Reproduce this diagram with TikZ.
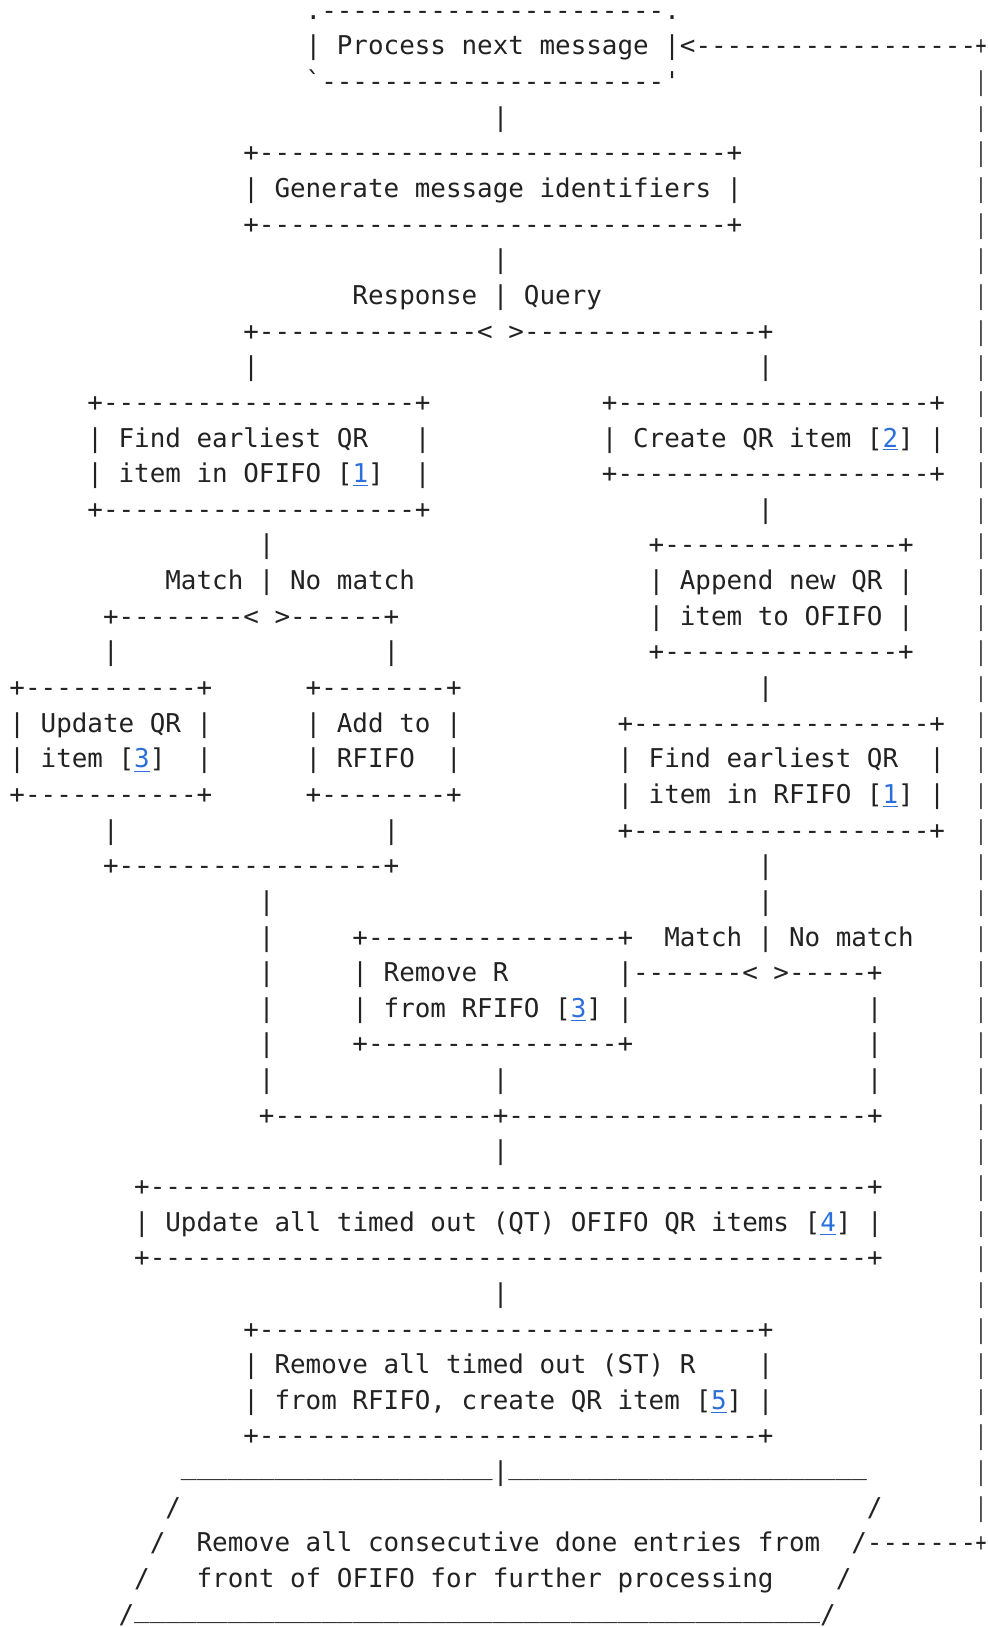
\documentclass[tikz,border=0pt]{standalone}
\usepackage{fontspec}
\setmonofont{DejaVu Sans Mono}
\usepackage{tikz}
\definecolor{inkgray}{HTML}{222222}
\definecolor{linkblue}{HTML}{2A6FDB}
\newcommand{\rep}[2]{\foreach \ii in {1,...,#1}{#2}}
\newcommand{\lnk}[1]{\textcolor{linkblue}{\underline{#1}}}
\newcommand{\seg}[4][]{ \node[ascii,#1] (l#3c#2) at ({9.5+15.59*#2},{55+35.64*(#3-2)}) {#4};}
% last column, a bit narrower so it stays inside the page
\newcommand{\rim}[2]{ \node[ascii,anchor=base] (l#1c62) at (981,{55+35.64*(#1-2)}) {\scalebox{0.7}[1]{#2}};}
\tikzset{ascii/.style={anchor=base west, inner sep=0pt, outer sep=0pt, text=inkgray,
    font={\ttfamily\fontsize{12.95}{15}\selectfont}}}

\begin{document}
\begin{tikzpicture}[x=0.5pt,y=-0.5pt]
        \useasboundingbox (0,0) rectangle (987,1627);
        % line 1-4: start
        \seg{19}{1}{.\rep{22}{-}.}
        \seg{19}{2}{| Process next message |<\rep{18}{-}} \rim{2}{+}
        \seg{19}{3}{`\rep{22}{-}'} \rim{3}{|}
        \seg{31}{4}{|} \rim{4}{|}
        % line 5-8: identifiers
        \seg{15}{5}{+\rep{30}{-}+} \rim{5}{|}
        \seg{15}{6}{| Generate message identifiers |} \rim{6}{|}
        \seg{15}{7}{+\rep{30}{-}+} \rim{7}{|}
        \seg{31}{8}{|} \rim{8}{|}
        % line 9-11: response / query
        \seg{22}{9}{Response | Query} \rim{9}{|}
        \seg{15}{10}{+\rep{14}{-}< >\rep{15}{-}+} \rim{10}{|}
        \seg{15}{11}{|} \seg{48}{11}{|} \rim{11}{|}
        % line 12-15
        \seg{5}{12}{+\rep{20}{-}+} \seg{38}{12}{+\rep{20}{-}+} \rim{12}{|}
        \seg{5}{13}{| Find earliest QR} \seg{26}{13}{|} \seg{38}{13}{| Create QR item [\lnk{2}] |} \rim{13}{|}
        \seg{5}{14}{| item in OFIFO [\lnk{1}]} \seg{26}{14}{|} \seg{38}{14}{+\rep{20}{-}+} \rim{14}{|}
        \seg{5}{15}{+\rep{20}{-}+} \seg{48}{15}{|} \rim{15}{|}
        % line 16-19
        \seg{16}{16}{|} \seg{41}{16}{+\rep{15}{-}+} \rim{16}{|}
        \seg{10}{17}{Match | No match} \seg{41}{17}{| Append new QR |} \rim{17}{|}
        \seg{6}{18}{+\rep{8}{-}< >\rep{6}{-}+} \seg{41}{18}{| item to OFIFO |} \rim{18}{|}
        \seg{6}{19}{|} \seg{24}{19}{|} \seg{41}{19}{+\rep{15}{-}+} \rim{19}{|}
        % line 20-24
        \seg{0}{20}{+\rep{11}{-}+} \seg{19}{20}{+\rep{8}{-}+} \seg{48}{20}{|} \rim{20}{|}
        \seg{0}{21}{| Update QR |} \seg{19}{21}{| Add to |} \seg{39}{21}{+\rep{19}{-}+} \rim{21}{|}
        \seg{0}{22}{| item [\lnk{3}]} \seg{12}{22}{|} \seg{19}{22}{| RFIFO} \seg{28}{22}{|} \seg{39}{22}{| Find earliest QR} \seg{59}{22}{|} \rim{22}{|}
        \seg{0}{23}{+\rep{11}{-}+} \seg{19}{23}{+\rep{8}{-}+} \seg{39}{23}{| item in RFIFO [\lnk{1}] |} \rim{23}{|}
        \seg{6}{24}{|} \seg{24}{24}{|} \seg{39}{24}{+\rep{19}{-}+} \rim{24}{|}
        % line 25-31
        \seg{6}{25}{+\rep{17}{-}+} \seg{48}{25}{|} \rim{25}{|}
        \seg{16}{26}{|} \seg{48}{26}{|} \rim{26}{|}
        \seg{16}{27}{|} \seg{22}{27}{+\rep{16}{-}+} \seg{42}{27}{Match | No match} \rim{27}{|}
        \seg{16}{28}{|} \seg{22}{28}{| Remove R} \seg{39}{28}{|\rep{7}{-}< >\rep{5}{-}+} \rim{28}{|}
        \seg{16}{29}{|} \seg{22}{29}{| from RFIFO [\lnk{3}] |} \seg{55}{29}{|} \rim{29}{|}
        \seg{16}{30}{|} \seg{22}{30}{+\rep{16}{-}+} \seg{55}{30}{|} \rim{30}{|}
        \seg{16}{31}{|} \seg{31}{31}{|} \seg{55}{31}{|} \rim{31}{|}
        % line 32-37
        \seg{16}{32}{+\rep{14}{-}+\rep{23}{-}+} \rim{32}{|}
        \seg{31}{33}{|} \rim{33}{|}
        \seg{8}{34}{+\rep{46}{-}+} \rim{34}{|}
        \seg{8}{35}{| Update all timed out (QT) OFIFO QR items [\lnk{4}] |} \rim{35}{|}
        \seg{8}{36}{+\rep{46}{-}+} \rim{36}{|}
        \seg{31}{37}{|} \rim{37}{|}
        % line 38-41
        \seg{15}{38}{+\rep{32}{-}+} \rim{38}{|}
        \seg{15}{39}{| Remove all timed out (ST) R} \seg{48}{39}{|} \rim{39}{|}
        \seg{15}{40}{| from RFIFO, create QR item [\lnk{5}] |} \rim{40}{|}
        \seg{15}{41}{+\rep{32}{-}+} \rim{41}{|}
        % line 42-46: parallelogram
        \seg[yshift=3pt]{11}{42}{\rep{20}{\_}} \seg{31}{42}{|} \seg[yshift=3pt]{32}{42}{\rep{23}{\_}} \rim{42}{|}
        \seg{10}{43}{/} \seg{55}{43}{/} \rim{43}{|}
        \seg{9}{44}{/} \seg{12}{44}{Remove all consecutive done entries from} \seg{54}{44}{/\rep{7}{-}} \rim{44}{+}
        \seg{8}{45}{/} \seg{12}{45}{front of OFIFO for further processing} \seg{53}{45}{/}
        \seg{7}{46}{/} \seg[yshift=3pt]{8}{46}{\rep{44}{\_}} \seg{52}{46}{/}
\end{tikzpicture}
\end{document}
